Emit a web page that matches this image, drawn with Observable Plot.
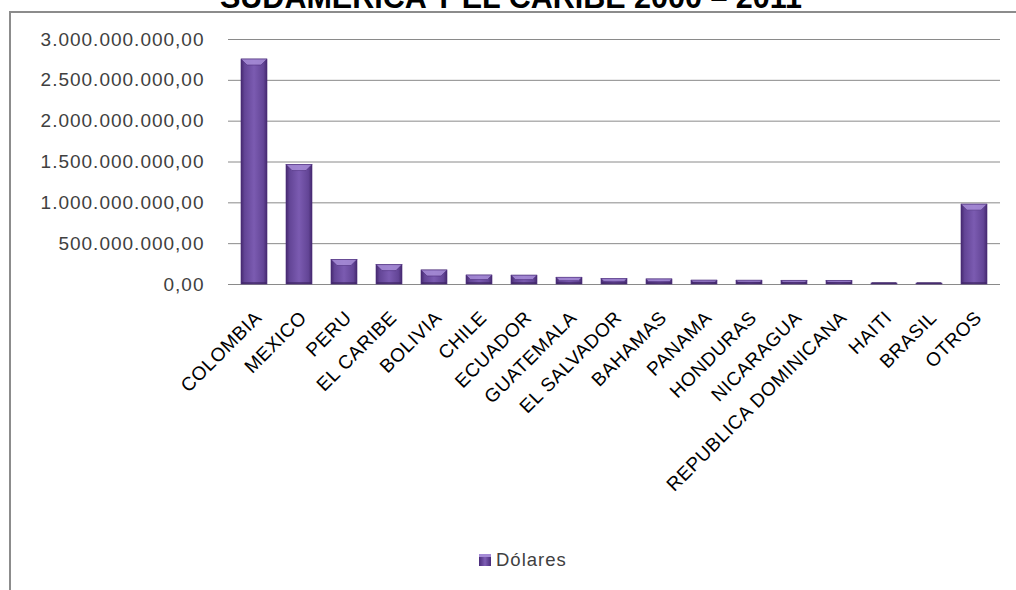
<!DOCTYPE html>
<html>
<head>
<meta charset="utf-8">
<script src="https://cdn.jsdelivr.net/npm/d3@7"></script>
<script src="https://cdn.jsdelivr.net/npm/@observablehq/plot@0.6"></script>
<style>
  html, body { margin: 0; padding: 0; background: #fff; }
  body { width: 1016px; height: 590px; overflow: hidden; position: relative; font-family: "Liberation Sans", Arial, sans-serif; }
  #frame { position: absolute; left: 9px; top: 11px; width: 1020px; height: 600px; border-left: 2px solid #8c8c8c; border-top: 2px solid #8c8c8c; }
  #title { position: absolute; left: 0; width: 1022px; text-align: center; top: -18px; font-size: 30.5px; line-height: 30px; font-weight: bold; color: #000; white-space: nowrap; }
  #chart { position: absolute; left: 0; top: 0; }
  #chart svg g[aria-label="y-axis tick label"] text { letter-spacing: 1px; }
  #chart svg g[aria-label="x-axis tick label"] text { letter-spacing: 0.6px; }
  #legend { position: absolute; left: 479px; top: 549px; height: 22px; font-size: 18.5px; letter-spacing: 1px; color: #404040; display: flex; align-items: center; }
  #legend .sw { width: 12px; height: 12px; margin-right: 5px; background: linear-gradient(to right, #4a2c7a, #7e5eb5 50%, #4a2c7a); box-shadow: inset 0 3px 0 #a58bd6; }
</style>
</head>
<body>
<div id="frame"></div>
<div id="title">SUDAMERICA Y EL CARIBE 2000 – 2011</div>
<div id="chart"></div>
<div id="legend"><span class="sw"></span><span id="legend-label"></span></div>
<script>
const categories = ["COLOMBIA","MEXICO","PERU","EL CARIBE","BOLIVIA","CHILE","ECUADOR","GUATEMALA","EL SALVADOR","BAHAMAS","PANAMA","HONDURAS","NICARAGUA","REPUBLICA DOMINICANA","HAITI","BRASIL","OTROS"];
const values = [2755e6, 1463e6, 300e6, 238e6, 172e6, 110e6, 108e6, 82e6, 66e6, 62e6, 47e6, 46e6, 44e6, 43e6, 12e6, 11e6, 978e6];
const yTicks = [0, 5e8, 1e9, 1.5e9, 2e9, 2.5e9, 3e9];
const seriesName = "Dólares";

document.getElementById("legend-label").textContent = seriesName;

const data = categories.map((c, i) => ({category: c, value: values[i]}));
const es = d3.formatLocale({decimal: ",", thousands: ".", grouping: [3], currency: ["", ""]});
const fmt = es.format(",.2f");

const chart = Plot.plot({
  width: 1016,
  height: 560,
  marginTop: 39,
  marginBottom: 276,
  marginLeft: 228,
  marginRight: 16,
  style: {fontFamily: "'Liberation Sans', Arial, sans-serif", background: "transparent", overflow: "visible"},
  x: {domain: categories, paddingInner: 0.42, paddingOuter: 0.21, label: null},
  y: {domain: [0, 3e9], label: null},
  marks: [
    Plot.ruleY(yTicks, {stroke: "#8a8a8a", strokeWidth: 1}),
    Plot.barY(data, {x: "category", y: "value", fill: "url(#barGrad)", stroke: "#4a2c7a", strokeWidth: 0.6, className: "bars"}),
    Plot.axisY({ticks: yTicks, tickSize: 0, tickPadding: 24, tickFormat: fmt, fontSize: 19, fill: "#404040"}),
    Plot.axisX({tickSize: 0, tickRotate: -45, tickPadding: 30, fontSize: 19, fill: "#000", dx: 4})
  ]
});

const svg = d3.select(chart);
const defs = svg.insert("defs", ":first-child");
const g = defs.append("linearGradient").attr("id", "barGrad").attr("x1", 0).attr("x2", 1).attr("y1", 0).attr("y2", 0);
[["0%", "#45296f"], ["14%", "#634596"], ["50%", "#7b5bb1"], ["86%", "#634596"], ["100%", "#45296f"]]
  .forEach(([o, c]) => g.append("stop").attr("offset", o).attr("stop-color", c));

// bevel highlight on top of each bar, derived from the rendered rects
svg.selectAll("g.bars rect").each(function() {
  const r = d3.select(this);
  const x = +r.attr("x"), y = +r.attr("y"), w = +r.attr("width"), h = +r.attr("height");
  const inset = Math.min(6, h / 2, w / 4);
  d3.select(this.parentNode).append("polygon")
    .attr("points", [[x, y], [x + w, y], [x + w - inset, y + inset], [x + inset, y + inset]].map(p => p.join(",")).join(" "))
    .attr("fill", "#a88ed8").attr("opacity", 0.85);
  d3.select(this.parentNode).append("line")
    .attr("x1", x + 1).attr("x2", x + w - 1).attr("y1", y + h - 1).attr("y2", y + h - 1)
    .attr("stroke", "#3c2362").attr("stroke-width", 1.2);
});

document.getElementById("chart").appendChild(chart);
</script>
</body>
</html>
